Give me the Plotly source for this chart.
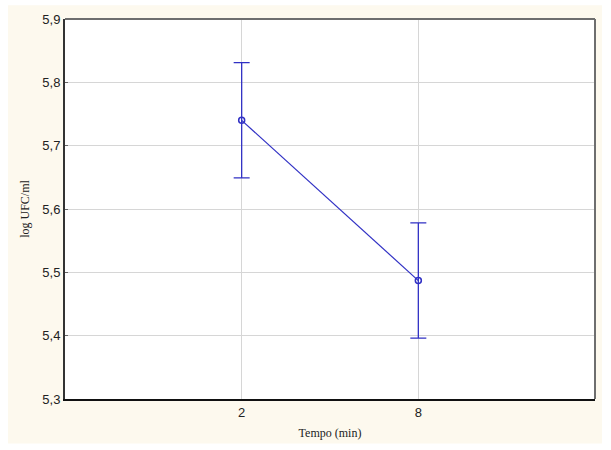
import plotly.graph_objects as go

# Mean log counts at each time point, with error half-widths
tempo = ["2", "8"]
log_ufc = [5.740, 5.487]
erro = [0.091, 0.091]

blue = "#3030C4"

fig = go.Figure()
fig.add_trace(go.Scatter(
    x=tempo,
    y=log_ufc,
    mode="lines+markers",
    line=dict(color=blue, width=1.2),
    marker=dict(symbol="circle-open", size=6, color=blue, line=dict(width=1.5, color=blue)),
    error_y=dict(type="data", array=erro, visible=True, color=blue, thickness=1.3, width=8),
    showlegend=False,
))

# cream panel behind everything, white plotting area, gray top/right frame
shapes = [
    dict(type="rect", xref="paper", yref="paper", x0=-0.1075, x1=1.0132, y0=-0.1169, y1=1.0364,
         fillcolor="#FDF9EE", line=dict(width=0), layer="below"),
    dict(type="rect", xref="paper", yref="paper", x0=0, x1=1, y0=0, y1=1,
         fillcolor="white", line=dict(width=0), layer="below"),
    dict(type="line", xref="paper", yref="paper", x0=0, x1=1, y0=1, y1=1,
         line=dict(color="#6E6E6E", width=2)),
    dict(type="line", xref="paper", yref="paper", x0=1, x1=1, y0=0, y1=1,
         line=dict(color="#6E6E6E", width=2)),
]

fig.update_layout(
    width=611, height=450,
    margin=dict(l=65, r=16, t=17, b=48),
    paper_bgcolor="white",
    plot_bgcolor="white",
    separators=",.",
    shapes=shapes,
    xaxis=dict(
        type="category",
        range=[-1, 2],
        showgrid=True, gridcolor="#D6D6D6", gridwidth=1,
        showline=True, linecolor="#111111", linewidth=2,
        ticks="", zeroline=False,
        tickfont=dict(family="Liberation Sans, Arial", size=13, color="#222222"),
        title=dict(text="Tempo (min)", font=dict(family="Liberation Serif, Times New Roman", size=12, color="#222222"),
                   standoff=10),
    ),
    yaxis=dict(
        range=[5.3, 5.9], dtick=0.1, tick0=5.3, tickformat=".1f",
        showgrid=True, gridcolor="#D6D6D6", gridwidth=1,
        showline=True, linecolor="#333333", linewidth=2,
        ticks="inside", ticklen=3, tickcolor="#666666",
        zeroline=False,
        tickfont=dict(family="Liberation Sans, Arial", size=13, color="#222222"),
        title=dict(text="log UFC/ml", font=dict(family="Liberation Serif, Times New Roman", size=12, color="#222222"),
                   standoff=10),
    ),
)

fig.write_html("out.html")
